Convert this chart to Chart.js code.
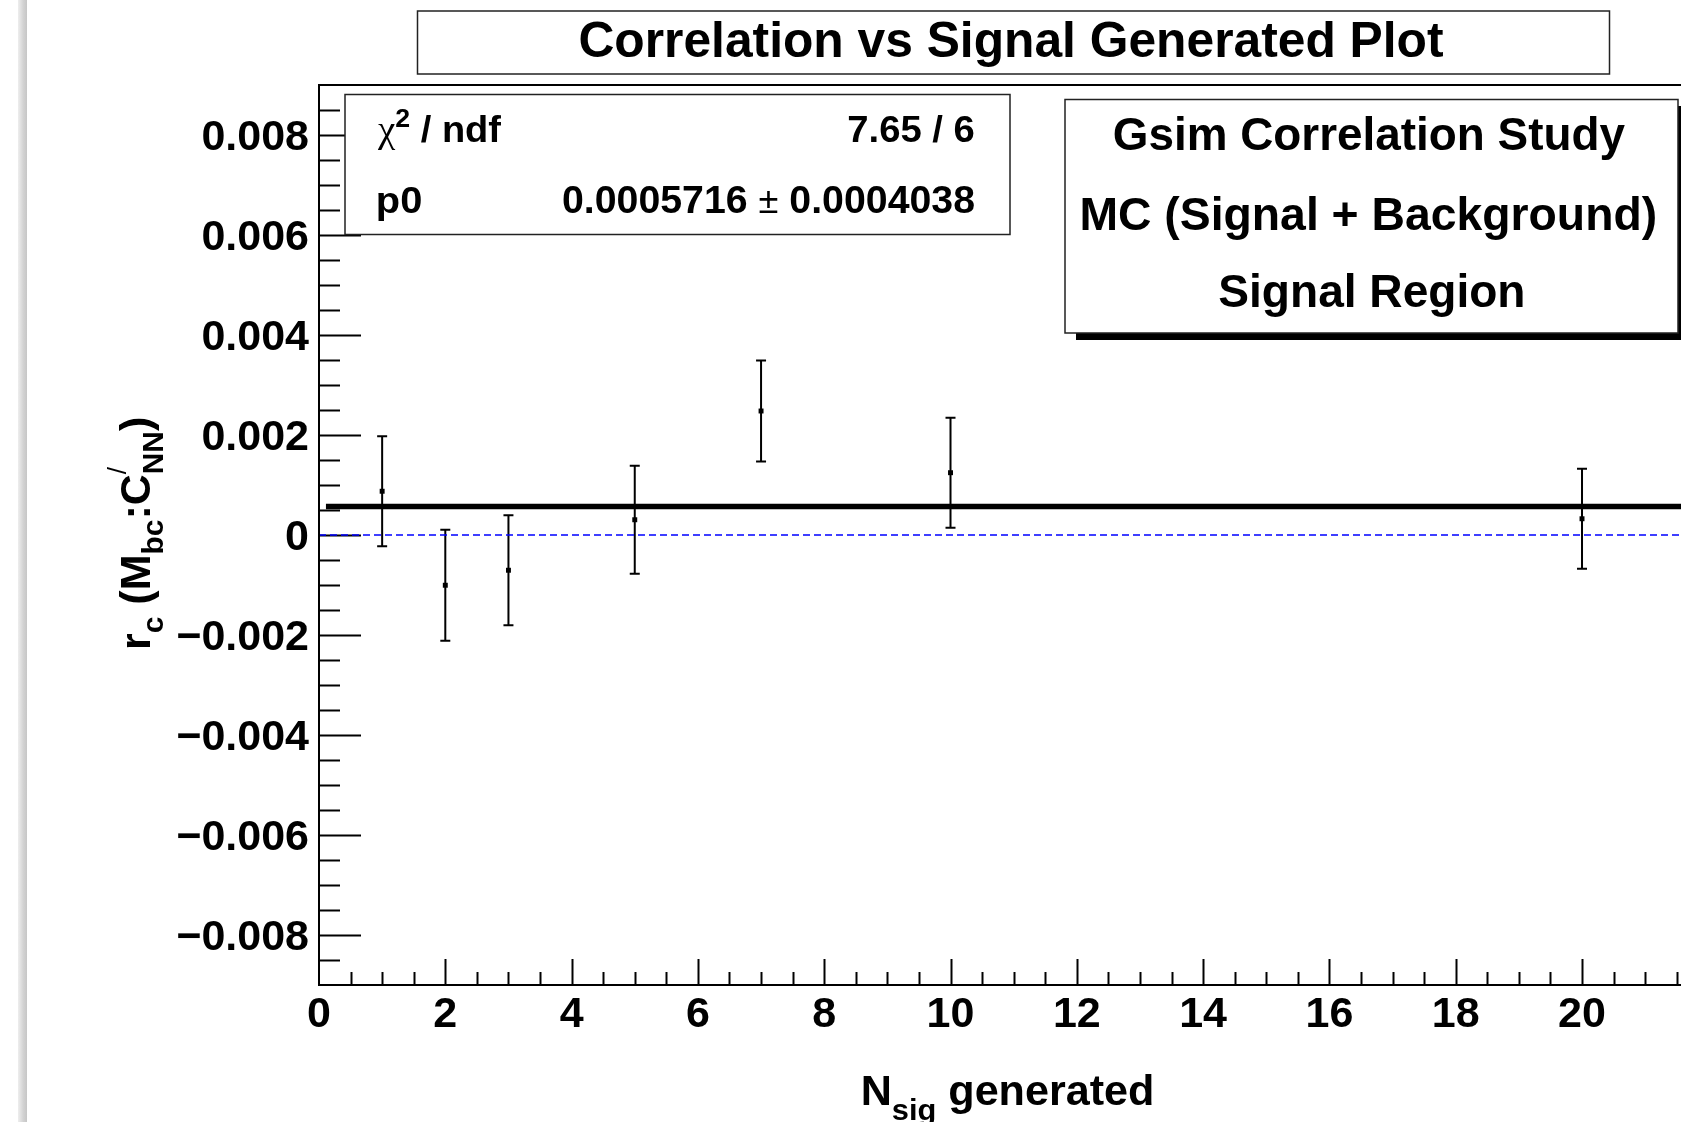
<!DOCTYPE html>
<html><head><meta charset="utf-8">
<script src="https://cdn.jsdelivr.net/npm/chart.js@4.4.1/dist/chart.umd.min.js"></script>
<style>
html,body{margin:0;padding:0;background:#fff;overflow:hidden;width:1681px;height:1122px;}
#wrap{position:absolute;left:0;top:0;width:1720px;height:1122px;}
#bar{position:absolute;left:18px;top:0;width:9px;height:1122px;background:linear-gradient(to right,#eeeeee,#d2d2d2 60%,#c6c6c6);}
</style></head><body>
<div id="wrap"><canvas id="c" width="1720" height="1122"></canvas></div>
<div id="bar"></div>
<script>
// ---- data ----
const nsig   = [1, 2, 3, 5, 7, 10, 20];
const rc     = [0.000875, -0.001005, -0.000705, 0.000305, 0.00248, 0.001246, 0.000325];
const rcErr  = [0.00110, 0.00111, 0.00110, 0.00108, 0.00101, 0.00110, 0.00100];
const fitP0  = 0.0005716;
const fitRange = [0.11, 21.9];
const xRange = [0, 21.9];
const yRange = [-0.009, 0.009];
const xTickVals   = [0, 2, 4, 6, 8, 10, 12, 14, 16, 18, 20];
const xTickLabels = ['0','2','4','6','8','10','12','14','16','18','20'];
const yTickVals   = [-0.008, -0.006, -0.004, -0.002, 0, 0.002, 0.004, 0.006, 0.008];
const yTickLabels = ['\u22120.008','\u22120.006','\u22120.004','\u22120.002','0','0.002','0.004','0.006','0.008'];
const titleText = 'Correlation vs Signal Generated Plot';
const statsChi  = '7.65 / 6';
const statsP0   = ['0.0005716', '0.0004038'];
const legendLines = ['Gsim Correlation Study', 'MC (Signal + Background)', 'Signal Region'];

const FONT = '"Liberation Sans", Arial, Helvetica, sans-serif';
function fnt(size, bold = true) { return (bold ? 'bold ' : '') + size + 'px ' + FONT; }

function drawRich(ctx, segs, inkLeft, baseline, inkWidth) {
  let x = 0, minL = Infinity, maxR = -Infinity;
  const placed = [];
  for (const s of segs) {
    ctx.font = s.font;
    const m = ctx.measureText(s.t);
    if (s.t.trim()) {
      minL = Math.min(minL, x - m.actualBoundingBoxLeft);
      maxR = Math.max(maxR, x + m.actualBoundingBoxRight);
    }
    placed.push({ s, x });
    if (!s.stack) x += m.width;
  }
  const sx = inkWidth ? inkWidth / (maxR - minL) : 1;
  ctx.save();
  ctx.translate(inkLeft, baseline);
  ctx.scale(sx, 1);
  ctx.translate(-minL, 0);
  ctx.textBaseline = 'alphabetic';
  ctx.textAlign = 'left';
  ctx.fillStyle = '#000';
  for (const p of placed) { ctx.font = p.s.font; ctx.fillText(p.s.t, p.x, p.s.dy || 0); }
  ctx.restore();
}

const decor = {
  id: 'decor',
  beforeDatasetsDraw(chart) {
    const ctx = chart.ctx, xs = chart.scales.x, ys = chart.scales.y, a = chart.chartArea;
    ctx.save();
    ctx.strokeStyle = '#000';
    ctx.lineWidth = 2;
    // y ticks (inside)
    for (let k = -17; k <= 17; k++) {
      const v = k * 0.0005;
      const major = (k % 4 === 0);
      const py = Math.round(ys.getPixelForValue(v)) + 0.5;
      ctx.beginPath(); ctx.moveTo(a.left, py); ctx.lineTo(a.left + (major ? 42 : 21), py); ctx.stroke();
    }
    // x ticks (inside)
    for (let k = 1; k * 0.5 < xRange[1]; k++) {
      const v = k * 0.5;
      const major = (k % 4 === 0);
      const px = Math.round(xs.getPixelForValue(v)) + 0.5;
      ctx.beginPath(); ctx.moveTo(px, a.bottom); ctx.lineTo(px, a.bottom - (major ? 26 : 13)); ctx.stroke();
    }
    // error bars
    ctx.lineWidth = 2;
    for (let i = 0; i < nsig.length; i++) {
      const px = xs.getPixelForValue(nsig[i]);
      const y1 = ys.getPixelForValue(rc[i] + rcErr[i]);
      const y2 = ys.getPixelForValue(rc[i] - rcErr[i]);
      ctx.beginPath();
      ctx.moveTo(px, y1); ctx.lineTo(px, y2);
      ctx.moveTo(px - 5, y1); ctx.lineTo(px + 5, y1);
      ctx.moveTo(px - 5, y2); ctx.lineTo(px + 5, y2);
      ctx.stroke();
    }
    ctx.restore();
  },
  afterDraw(chart) {
    const ctx = chart.ctx, a = chart.chartArea;
    ctx.save();
    // frame
    ctx.strokeStyle = '#000'; ctx.lineWidth = 2;
    ctx.strokeRect(a.left, a.top, a.right - a.left, a.bottom - a.top);

    // title box
    ctx.fillStyle = '#fff'; ctx.strokeStyle = '#222'; ctx.lineWidth = 1.5;
    ctx.fillRect(417.5, 11, 1192, 63); ctx.strokeRect(417.5, 11, 1192, 63);
    drawRich(ctx, [{ t: titleText, font: fnt(50) }], 580.4, 57, 863.5);

    // stats box
    ctx.fillStyle = '#fff'; ctx.strokeStyle = '#222'; ctx.lineWidth = 1.5;
    ctx.fillRect(345, 94.5, 665, 140); ctx.strokeRect(345, 94.5, 665, 140);
    drawRich(ctx, [{ t: '\u03C7', font: '38px "Liberation Serif", "DejaVu Serif", serif' }, { t: '2', font: fnt(26), dy: -15 }, { t: ' / ndf', font: fnt(37) }], 377, 141.5, 124.7);
    drawRich(ctx, [{ t: statsChi, font: fnt(37) }], 848.3, 141.5, 126);
    drawRich(ctx, [{ t: 'p0', font: fnt(37) }], 378, 212.5, 43.7);
    drawRich(ctx, [{ t: statsP0[0] + ' ', font: fnt(39) }, { t: '\u00B1', font: fnt(36, false) }, { t: ' ' + statsP0[1], font: fnt(39) }], 563, 212.5, 411.3);

    // legend box with shadow
    ctx.fillStyle = '#000';
    ctx.fillRect(1076, 106, 613, 234);
    ctx.fillStyle = '#fff'; ctx.strokeStyle = '#222'; ctx.lineWidth = 1.5;
    ctx.fillRect(1065, 99.5, 613, 233.5); ctx.strokeRect(1065, 99.5, 613, 233.5);
    drawRich(ctx, [{ t: legendLines[0], font: fnt(46) }], 1113.8, 150, 511.6);
    drawRich(ctx, [{ t: legendLines[1], font: fnt(46) }], 1082.5, 230, 573.3);
    drawRich(ctx, [{ t: legendLines[2], font: fnt(46) }], 1219.3, 306.7, 304.1);

    // x axis title
    drawRich(ctx, [{ t: 'N', font: fnt(42) }, { t: 'sig', font: fnt(30), dy: 15 }, { t: ' generated', font: fnt(42) }], 862.7, 1105, 289);

    // y axis title (rotated)
    ctx.save();
    ctx.translate(150, 648);
    ctx.rotate(-Math.PI / 2);
    drawRich(ctx, [
      { t: 'r', font: fnt(43) }, { t: 'c', font: fnt(30), dy: 13 },
      { t: ' (M', font: fnt(43) }, { t: 'bc', font: fnt(30), dy: 13 },
      { t: ':C', font: fnt(43) }, { t: '/', font: fnt(26, false), dy: -24, stack: true },
      { t: 'NN', font: fnt(30), dy: 13 }, { t: ')', font: fnt(43) }
    ], 0, 0, 230);
    ctx.restore();
    ctx.restore();
  }
};

const tickFont = { family: FONT, weight: 'bold', size: 43 };

new Chart(document.getElementById('c'), {
  type: 'scatter',
  data: {
    datasets: [
      { label: 'rc', data: nsig.map((x, i) => ({ x, y: rc[i] })), showLine: false,
        pointStyle: 'rect', pointRadius: 3.5, backgroundColor: '#000', borderColor: '#000', borderWidth: 0 },
      { label: 'fit', data: fitRange.map(x => ({ x, y: fitP0 })), showLine: true,
        borderColor: '#000', borderWidth: 5.5, pointRadius: 0 },
      { label: 'zero', data: xRange.map(x => ({ x, y: 0 })), showLine: true,
        borderColor: '#0000ff', borderWidth: 1.5, borderDash: [7, 4], pointRadius: 0 }
    ]
  },
  options: {
    responsive: false, animation: false, devicePixelRatio: 1,
    layout: { autoPadding: false, padding: { left: 0, top: 85, right: 18, bottom: 0 } },
    plugins: { legend: { display: false }, tooltip: { enabled: false }, title: { display: false } },
    scales: {
      x: {
        type: 'linear', min: xRange[0], max: xRange[1],
        afterBuildTicks: s => { s.ticks = xTickVals.map(v => ({ value: v })); },
        afterFit: s => { s.height = 137; },
        grid: { display: false, drawTicks: false }, border: { display: false },
        ticks: { autoSkip: false, maxRotation: 0, padding: 4, font: tickFont, color: '#000',
          callback: (v, i) => xTickLabels[i] }
      },
      y: {
        type: 'linear', min: yRange[0], max: yRange[1],
        afterBuildTicks: s => { s.ticks = yTickVals.map(v => ({ value: v })); },
        afterFit: s => { s.width = 319; },
        grid: { display: false, drawTicks: false }, border: { display: false },
        ticks: { autoSkip: false, padding: 10, labelOffset: 3, font: tickFont, color: '#000',
          callback: (v, i) => yTickLabels[i] }
      }
    }
  },
  plugins: [decor]
});
</script>
</body></html>
